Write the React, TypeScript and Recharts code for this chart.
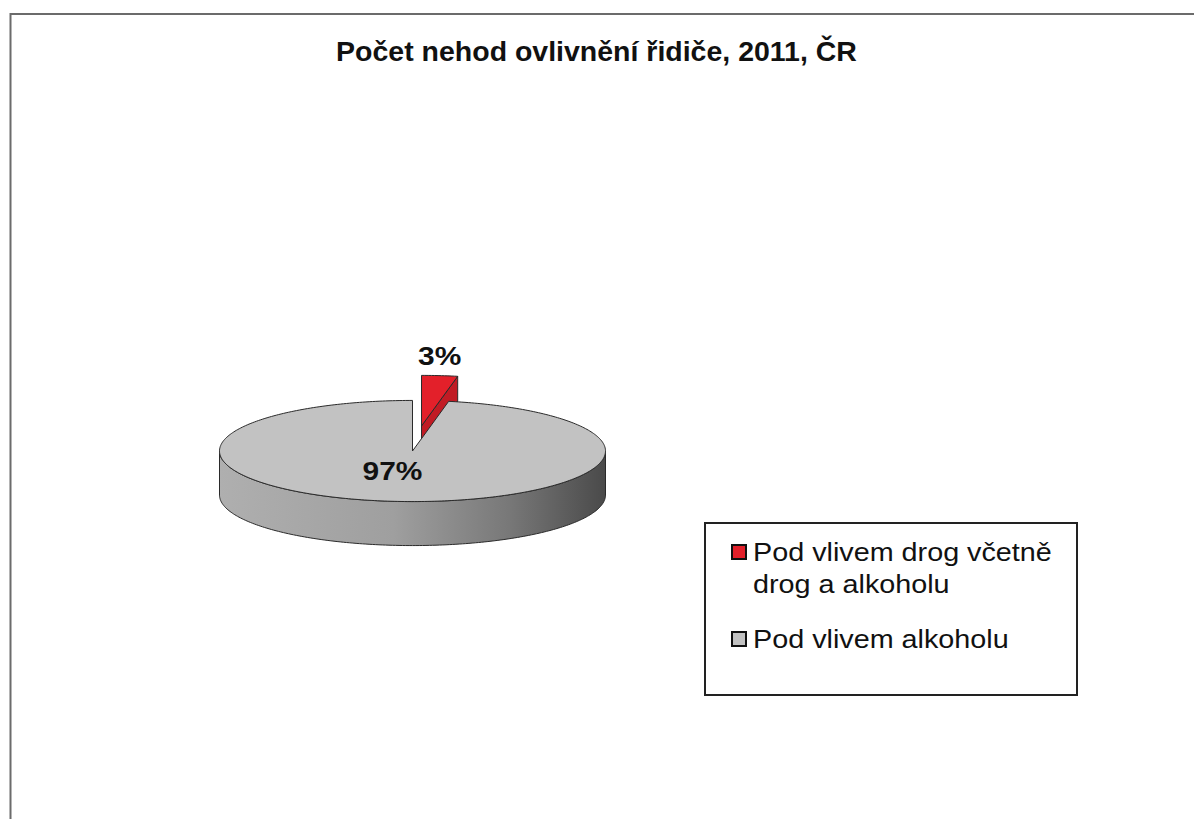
import React from 'react';
import { PieChart, Pie, Cell, Legend } from 'recharts';

// Data
const categories = ['Pod vlivem drog včetně drog a alkoholu', 'Pod vlivem alkoholu'];
const shares = [3, 97];
const sliceColors = ['#e3202a', '#c2c2c2'];

const chartData = categories.map((name, i) => ({ name, value: shares[i] }));

const RAD = Math.PI / 180;
const TILT = 0.262; // vertical squash of the 3D disc
const DEPTH = 44; // thickness of the disc
const EXPLODE = 96; // pull-out of the small slice
const STRETCH = 1.15; // the original picture is stretched horizontally
const FONT = '"Liberation Sans", Arial, sans-serif';

const shade = (hex: string, k: number) => {
    const n = parseInt(hex.slice(1), 16);
    const c = [(n >> 16) & 255, (n >> 8) & 255, n & 255].map((v) => Math.round(v * k));
    return `rgb(${c[0]},${c[1]},${c[2]})`;
};

const arcPoints = (cx: number, cy: number, r: number, a0: number, a1: number) => {
    const n = Math.max(2, Math.ceil(Math.abs(a1 - a0)));
    const pts: number[][] = [];
    for (let i = 0; i <= n; i++) {
        const a = (a0 + ((a1 - a0) * i) / n) * RAD;
        pts.push([cx + r * Math.cos(a), cy - r * TILT * Math.sin(a)]);
    }
    return pts;
};

const toPath = (pts: number[][]) => 'M' + pts.map((p) => `${p[0].toFixed(2)},${p[1].toFixed(2)}`).join(' L') + ' Z';

const Slice3D = (props: any) => {
    const { cx, cy, outerRadius: r, startAngle, endAngle, fill, percent } = props;
    const mid = ((startAngle + endAngle) / 2) * RAD;
    const off = percent < 0.5 ? EXPLODE : 0;
    const ox = cx + off * Math.cos(mid);
    const oy = cy - off * TILT * Math.sin(mid);
    const gid = `side-${String(fill).replace('#', '')}`;
    const stroke = '#2a2a2a';

    const top = [[ox, oy], ...arcPoints(ox, oy, r, startAngle, endAngle)];

    // outer wall, only the part facing the viewer
    const lo = Math.min(startAngle, endAngle);
    const hi = Math.max(startAngle, endAngle);
    const walls: string[] = [];
    for (let k = -2; k <= 1; k++) {
        const a1 = Math.max(lo, 180 + 360 * k);
        const a2 = Math.min(hi, 360 + 360 * k);
        if (a2 > a1) {
            const upper = arcPoints(ox, oy, r, a1, a2);
            const lower = upper.map(([x, y]) => [x, y + DEPTH]).reverse();
            walls.push(toPath([...upper, ...lower]));
        }
    }

    // radial cut faces
    const cw = endAngle < startAngle;
    const edges = [
        { a: startAngle, n: startAngle + (cw ? 90 : -90) },
        { a: endAngle, n: endAngle + (cw ? -90 : 90) },
    ];
    const faces = edges
        .filter((e) => Math.sin(e.n * RAD) < -1e-6)
        .map((e) => {
            const ex = ox + r * Math.cos(e.a * RAD);
            const ey = oy - r * TILT * Math.sin(e.a * RAD);
            return toPath([[ox, oy], [ex, ey], [ex, ey + DEPTH], [ox, oy + DEPTH]]);
        });

    return (
        <g>
            <defs>
                <linearGradient id={gid} gradientUnits="userSpaceOnUse" x1={ox - r} y1={0} x2={ox + r} y2={0}>
                    <stop offset="0%" stopColor={shade(fill, 0.9)} />
                    <stop offset="45%" stopColor={shade(fill, 0.82)} />
                    <stop offset="75%" stopColor={shade(fill, 0.62)} />
                    <stop offset="100%" stopColor={shade(fill, 0.38)} />
                </linearGradient>
            </defs>
            {walls.map((d, i) => (
                <path key={`w${i}`} d={d} fill={`url(#${gid})`} stroke={stroke} strokeWidth={1} strokeLinejoin="round" />
            ))}
            {faces.map((d, i) => (
                <path key={`f${i}`} d={d} fill={shade(fill, 0.85)} stroke={stroke} strokeWidth={1} strokeLinejoin="round" />
            ))}
            <path d={toPath(top)} fill={fill} stroke={stroke} strokeWidth={1} strokeLinejoin="round" />
        </g>
    );
};

const renderLabel = (props: any) => {
    const { cx, cy, midAngle, outerRadius: r, percent } = props;
    const m = midAngle * RAD;
    let x: number;
    let y: number;
    if (percent < 0.5) {
        x = cx + (EXPLODE + r) * Math.cos(m);
        y = cy - (EXPLODE + r) * TILT * Math.sin(m) - 11;
    } else {
        x = cx + r * 1.1 * Math.cos(m);
        y = cy - r * TILT * 0.4 * Math.sin(m) + 9;
    }
    return (
        <text
            transform={`translate(${x},${y}) scale(${STRETCH},1)`}
            textAnchor="middle"
            fontFamily={FONT}
            fontWeight="bold"
            fontSize={26}
            fill="#111"
        >
            {`${Math.round(percent * 100)}%`}
        </text>
    );
};

const renderLegend = (props: any) => {
    const items = [...(props.payload || [])].sort(
        (a: any, b: any) => categories.indexOf(a.value) - categories.indexOf(b.value)
    );
    return (
        <div
            style={{
                width: 374,
                height: 174,
                boxSizing: 'border-box',
                border: '2px solid #222',
                background: '#fff',
                padding: '12px 0 0 25px',
                fontFamily: FONT,
                fontSize: 25,
                lineHeight: '32px',
                color: '#111',
            }}
        >
            {items.map((it: any, i: number) => (
                <div key={it.value} style={{ display: 'flex', alignItems: 'flex-start', marginTop: i === 0 ? 0 : 23 }}>
                    <span
                        style={{
                            width: 12,
                            height: 12,
                            marginTop: 8,
                            border: '2px solid #111',
                            background: it.color,
                            flexShrink: 0,
                        }}
                    />
                    <span
                        style={{
                            display: 'inline-block',
                            width: 280,
                            marginLeft: 6,
                            transform: `scaleX(${STRETCH})`,
                            transformOrigin: 'left top',
                        }}
                    >
                        {it.value}
                    </span>
                </div>
            ))}
        </div>
    );
};

const App: React.FC = () => {
    return (
        <div
            style={{
                position: 'absolute',
                left: 0,
                top: 0,
                width: 1194,
                height: 819,
                overflow: 'hidden',
                background: '#fff',
            }}
        >
            <svg width={1194} height={819} style={{ position: 'absolute', left: 0, top: 0 }}>
                <rect x={10.5} y={14} width={1300} height={900} fill="#fff" stroke="#6b6b6b" strokeWidth={2} />
                <text
                    transform="translate(596.5,61) scale(1.055,1)"
                    textAnchor="middle"
                    fontFamily={FONT}
                    fontWeight="bold"
                    fontSize={27}
                    fill="#111"
                >
                    Počet nehod ovlivnění řidiče, 2011, ČR
                </text>
            </svg>
            <div style={{ position: 'absolute', left: 0, top: 0 }}>
                <PieChart width={1194} height={819} margin={{ top: 0, right: 0, bottom: 0, left: 0 }}>
                    <Pie
                        data={chartData}
                        dataKey="value"
                        nameKey="name"
                        cx={412.5}
                        cy={451}
                        outerRadius={193}
                        startAngle={90}
                        endAngle={-270}
                        stroke="none"
                        shape={Slice3D}
                        label={renderLabel}
                        labelLine={false}
                        isAnimationActive={false}
                    >
                        {chartData.map((entry, index) => (
                            <Cell key={`cell-${index}`} fill={sliceColors[index]} />
                        ))}
                    </Pie>
                    <Legend
                        layout="vertical"
                        align="right"
                        verticalAlign="middle"
                        content={renderLegend}
                        wrapperStyle={{ left: 704, top: 522, width: 374, height: 174 }}
                    />
                </PieChart>
            </div>
        </div>
    );
};

export default App;
